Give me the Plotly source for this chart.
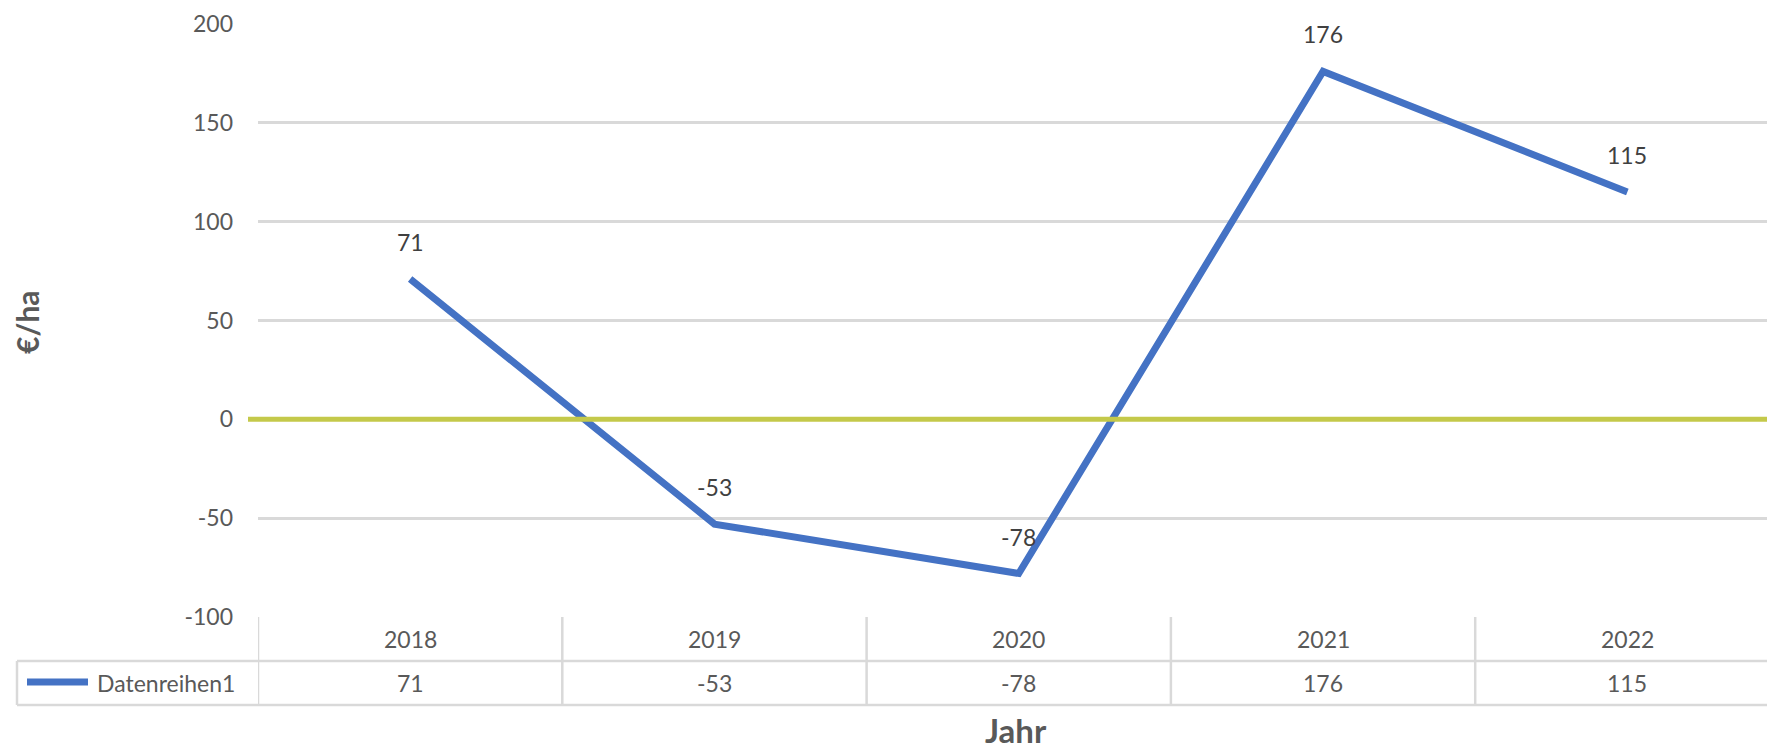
import plotly.graph_objects as go

years = ["2018", "2019", "2020", "2021", "2022"]
values = [71, -53, -78, 176, 115]
series_name = "Datenreihen1"
y_ticks = [-100, -50, 0, 50, 100, 150, 200]
y_tick_text = ["-100", "-50", "0", "50", "100", "150", "200"]
threshold = 0

W, H = 1767, 751
L, R, T, B = 258, 0, 24, 134
PW, PH = W - L - R, H - T - B
CAT_W = 304.3  # pixel width of one category column (plot runs past the right edge)

def px_x(x):
    return (x - L) / PW

def px_y(y):
    return (H - B - y) / PH

BLUE = "#4472C4"
GREEN = "#C4C94A"
GRID = "#D9D9D9"
TXT = "#595959"
FONT = "Lato"
FS = 23

fig = go.Figure()
fig.add_trace(go.Scatter(
    x=years, y=values, mode="lines", name=series_name,
    line=dict(color=BLUE, width=7), showlegend=False, hoverinfo="skip",
))

shapes = []
shapes.append(dict(type="line", xref="paper", yref="y", x0=px_x(248), x1=1.0,
                   y0=threshold, y1=threshold, line=dict(color=GREEN, width=5), layer="above"))

row1 = px_y(661)
row2 = px_y(705)
lc = dict(color=GRID, width=2.5)
shapes.append(dict(type="line", xref="paper", yref="paper", x0=px_x(17), x1=1.0, y0=row1, y1=row1, line=lc))
shapes.append(dict(type="line", xref="paper", yref="paper", x0=px_x(17), x1=1.0, y0=row2, y1=row2, line=lc))
shapes.append(dict(type="line", xref="paper", yref="paper", x0=px_x(17), x1=px_x(17), y0=row1, y1=row2, line=lc))
for i in range(len(years)):
    xb = i - 0.5
    shapes.append(dict(type="line", xref="x", yref="paper", x0=xb, x1=xb, y0=0, y1=row2, line=lc))
leg_y = px_y(682)
shapes.append(dict(type="line", xref="paper", yref="paper", x0=px_x(27), x1=px_x(88),
                   y0=leg_y, y1=leg_y, line=dict(color=BLUE, width=7)))

annotations = []
for i, (yr, v) in enumerate(zip(years, values)):
    annotations.append(dict(x=i, y=v, xref="x", yref="y", text=str(v), showarrow=False,
                            yshift=37, font=dict(family=FONT, size=FS, color="#404040")))
    annotations.append(dict(x=i, y=px_y(639), xref="x", yref="paper", text=yr, showarrow=False,
                            yanchor="middle", font=dict(family=FONT, size=FS, color=TXT)))
    annotations.append(dict(x=i, y=px_y(683), xref="x", yref="paper", text=str(v), showarrow=False,
                            yanchor="middle", font=dict(family=FONT, size=FS, color=TXT)))
annotations.append(dict(x=px_x(95), y=px_y(683), xref="paper", yref="paper", text=series_name,
                        showarrow=False, xanchor="left", yanchor="middle",
                        font=dict(family=FONT, size=FS, color=TXT)))
annotations.append(dict(x=px_x(1016), y=px_y(730), xref="paper", yref="paper", text="<b>Jahr</b>",
                        showarrow=False, xanchor="center", yanchor="middle",
                        font=dict(family=FONT, size=33, color=TXT)))
annotations.append(dict(x=px_x(27), y=px_y(322), xref="paper", yref="paper", text="<b>€/ha</b>",
                        showarrow=False, xanchor="center", yanchor="middle", textangle=-90,
                        font=dict(family=FONT, size=30, color=TXT)))

fig.update_layout(
    width=W, height=H,
    margin=dict(l=L, r=R, t=T, b=B),
    paper_bgcolor="white", plot_bgcolor="white",
    showlegend=False,
    shapes=shapes, annotations=annotations,
    xaxis=dict(type="category", range=[-0.5, -0.5 + PW / CAT_W], showticklabels=False,
               showgrid=False, zeroline=False, showline=False, ticks=""),
    yaxis=dict(range=[-100, 200], tickvals=y_ticks, ticktext=y_tick_text, showgrid=True,
               gridcolor=GRID, gridwidth=2.5,
               zeroline=False, showline=False, ticks="", ticklabelstandoff=24,
               tickfont=dict(family=FONT, size=FS, color=TXT)),
)

fig.write_html("out.html", config={"displayModeBar": False})
